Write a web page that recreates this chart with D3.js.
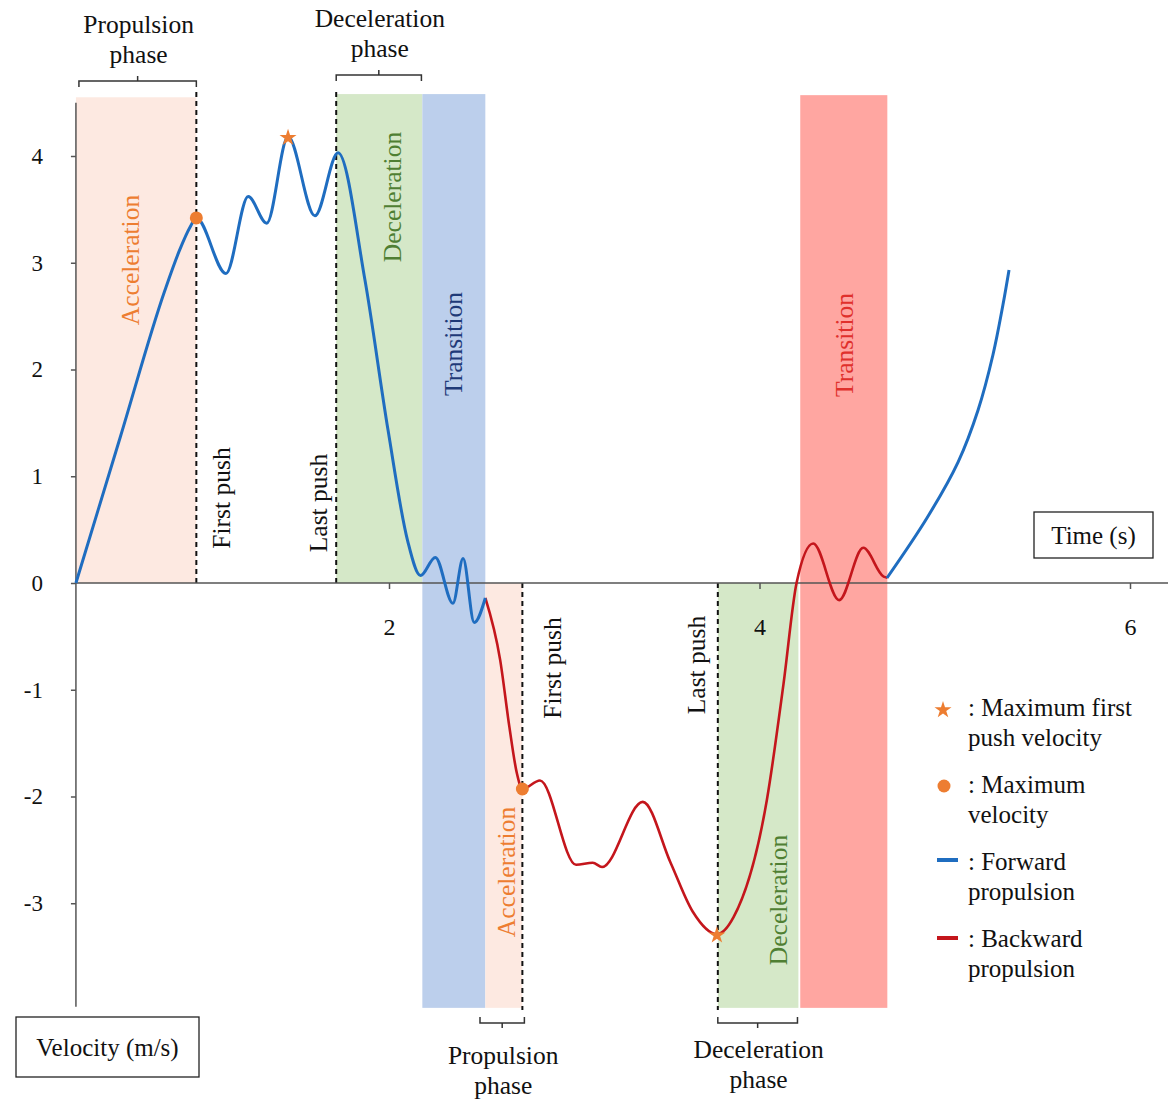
<!DOCTYPE html>
<html>
<head>
<meta charset="utf-8">
<script src="https://cdn.jsdelivr.net/npm/d3@7"></script>
<style>
  body { margin: 0; background: #fff; }
  svg text { font-family: "Liberation Serif", "Times New Roman", serif; }
</style>
</head>
<body>
<div id="chart"></div>
<script>
"use strict";

// velocity (m/s) against time (s)
const forwardStart = [
  [0.31, 0], [0.55, 1.37], [0.79, 2.74], [0.87, 3.12], [0.925, 3.33], [0.96, 3.42],
  [1.12, 2.90], [1.24, 3.62], [1.34, 3.37], [1.455, 4.18], [1.60, 3.44],
  [1.725, 4.03], [1.87, 2.84], [1.995, 1.43], [2.10, 0.40], [2.17, 0.07],
  [2.25, 0.24], [2.345, -0.19], [2.40, 0.23], [2.46, -0.37], [2.52, -0.14]
];
const backward = [
  [2.52, -0.14], [2.60, -0.72], [2.65, -1.35], [2.69, -1.78], [2.72, -1.93],
  [2.815, -1.85], [3.01, -2.64], [3.10, -2.62], [3.15, -2.66],
  [3.37, -2.05], [3.52, -2.62], [3.64, -3.08], [3.77, -3.29], [3.86, -3.13],
  [4.04, -2.03], [4.13, -0.94], [4.20, 0], [4.29, 0.37], [4.43, -0.16],
  [4.56, 0.33], [4.67, 0.06], [4.69, 0.05]
];
const forwardEnd = [
  [4.688, 0.047], [4.904, 0.609], [5.072, 1.133], [5.18, 1.621],
  [5.26, 2.136], [5.314, 2.604], [5.347, 2.932]
];
const maxVelocity = [[0.96, 3.42], [2.72, -1.93]];
const maxFirstPush = [[1.455, 4.18], [3.77, -3.29]];

const xTicks = [2, 4, 6];
const yTicks = [-3, -2, -1, 0, 1, 2, 3, 4];

const phaseBands = [
  { key: "accel", t0: 0.31, t1: 0.96, vLow: 0, vHigh: 4.55 },
  { key: "decel", t0: 1.715, t1: 2.18, vLow: 0, vHigh: 4.58 },
  { key: "transF", t0: 2.18, t1: 2.52, vLow: -3.98, vHigh: 4.58 },
  { key: "accel", t0: 2.52, t1: 2.72, vLow: -3.98, vHigh: 0 },
  { key: "decel", t0: 3.775, t1: 4.21, vLow: -3.98, vHigh: 0 },
  { key: "transB", t0: 4.22, t1: 4.69, vLow: -3.98, vHigh: 4.57 }
];
const pushTimes = [0.96, 1.715, 2.72, 3.775];

const bandColor = {
  accel: "#fde9e1", decel: "#d5e8c8", transF: "#bccfec", transB: "#ffa6a1"
};
const orange = "#ed7d31";
const blue = "#1f6dc0";
const red = "#c4161c";
const serif = "'Liberation Serif', 'Times New Roman', serif";

const width = 1171;
const height = 1099;

const svg = d3.select("#chart")
  .append("svg")
  .attr("width", width)
  .attr("height", height);

const x = d3.scaleLinear().domain([2, 6]).range([389, 1130]);
const y = d3.scaleLinear().domain([0, 4]).range([583, 156]);
const x0 = x(forwardStart[0][0]);

// shaded phases
svg.append("g")
  .selectAll("rect")
  .data(phaseBands)
  .enter()
  .append("rect")
  .attr("x", d => x(d.t0))
  .attr("y", d => y(d.vHigh))
  .attr("width", d => x(d.t1) - x(d.t0))
  .attr("height", d => y(d.vLow) - y(d.vHigh))
  .attr("fill", d => bandColor[d.key]);

// first / last push markers
svg.append("g")
  .selectAll("line")
  .data(pushTimes)
  .enter()
  .append("line")
  .attr("x1", d => x(d))
  .attr("x2", d => x(d))
  .attr("y1", y(0))
  .attr("y2", (d, i) => i < 2 ? y(4.6) : y(-4.0))
  .attr("stroke", "#111")
  .attr("stroke-width", 2)
  .attr("stroke-dasharray", "5,4");

// axes
const xAxis = d3.axisBottom(x).tickValues(xTicks).tickSize(6).tickFormat(d => String(d));
const gx = svg.append("g")
  .attr("transform", `translate(0, ${y(0)})`)
  .call(xAxis)
  .attr("font-family", serif)
  .attr("font-size", 24);
gx.select(".domain").remove();
gx.selectAll("line").attr("stroke", "#555").attr("stroke-width", 1.5);
gx.selectAll("text")
  .attr("y", 52)
  .attr("dy", null)
  .attr("fill", "#111")
  .attr("font-family", serif)
  .attr("font-size", 24);
gx.append("line")
  .attr("x1", x0).attr("x2", 1168)
  .attr("y1", 0).attr("y2", 0)
  .attr("stroke", "#555").attr("stroke-width", 1.5);

const yAxis = d3.axisLeft(y).tickValues(yTicks).tickSize(5).tickFormat(d => String(d));
const gy = svg.append("g")
  .attr("transform", `translate(${x0}, 0)`)
  .call(yAxis)
  .attr("font-family", serif)
  .attr("font-size", 23);
gy.select(".domain").remove();
gy.selectAll("line").attr("stroke", "#555").attr("stroke-width", 1.5);
gy.selectAll("text")
  .attr("x", -33)
  .attr("fill", "#111")
  .attr("font-family", serif)
  .attr("font-size", 23);
gy.append("line")
  .attr("x1", 0).attr("x2", 0)
  .attr("y1", y(4.5)).attr("y2", y(-3.97))
  .attr("stroke", "#555").attr("stroke-width", 1.5);

// velocity curves
const line = d3.line()
  .x(d => x(d[0]))
  .y(d => y(d[1]))
  .curve(d3.curveMonotoneX);
const smoothLine = d3.line()
  .x(d => x(d[0]))
  .y(d => y(d[1]))
  .curve(d3.curveCatmullRom.alpha(0.5));

svg.append("path").datum(backward)
  .attr("d", line).attr("fill", "none")
  .attr("stroke", red).attr("stroke-width", 2.6);
svg.append("path").datum(forwardStart)
  .attr("d", line).attr("fill", "none")
  .attr("stroke", blue).attr("stroke-width", 3);
svg.append("path").datum(forwardEnd)
  .attr("d", smoothLine).attr("fill", "none")
  .attr("stroke", blue).attr("stroke-width", 3);

// markers
svg.append("g")
  .selectAll("circle")
  .data(maxVelocity)
  .enter()
  .append("circle")
  .attr("cx", d => x(d[0]))
  .attr("cy", d => y(d[1]))
  .attr("r", 6.5)
  .attr("fill", orange);

const star = d3.symbol().type(d3.symbolStar).size(90);
svg.append("g")
  .selectAll("path")
  .data(maxFirstPush)
  .enter()
  .append("path")
  .attr("d", star)
  .attr("transform", d => `translate(${x(d[0])}, ${y(d[1]) + 1})`)
  .attr("fill", orange);

// rotated labels
const rotated = [
  { text: "Acceleration", cx: 131, cy: 260, color: orange },
  { text: "Deceleration", cx: 393, cy: 197, color: "#4f7f33" },
  { text: "Transition", cx: 454, cy: 344, color: "#1f3a78" },
  { text: "Transition", cx: 845, cy: 345, color: "#e0302c" },
  { text: "First push", cx: 222, cy: 498, color: "#111" },
  { text: "Last push", cx: 319, cy: 503, color: "#111" },
  { text: "First push", cx: 553, cy: 668, color: "#111" },
  { text: "Last push", cx: 697, cy: 665, color: "#111" },
  { text: "Acceleration", cx: 507, cy: 872, color: orange },
  { text: "Deceleration", cx: 779, cy: 900, color: "#4f7f33" }
];
svg.append("g")
  .selectAll("text")
  .data(rotated)
  .enter()
  .append("text")
  .attr("transform", d => `translate(${d.cx}, ${d.cy}) rotate(-90)`)
  .attr("text-anchor", "middle")
  .attr("dy", "0.32em")
  .attr("fill", d => d.color)
  .style("font-size", "25.5px")
  .text(d => d.text);

// phase braces
const braces = [
  { a: x0 + 3, b: x(0.96), yh: 81, dir: 1, lines: ["Propulsion", "phase"], ty: 33 },
  { a: x(1.715), b: x(2.175), yh: 75, dir: 1, lines: ["Deceleration", "phase"], ty: 27 },
  { a: 480, b: x(2.72) + 2, yh: 1023, dir: -1, lines: ["Propulsion", "phase"], ty: 1064 },
  { a: x(3.775), b: x(4.205), yh: 1023, dir: -1, lines: ["Deceleration", "phase"], ty: 1058 }
];
const gb = svg.append("g");
braces.forEach(b => {
  const mid = (b.a + b.b) / 2;
  gb.append("path")
    .attr("d", `M${b.a},${b.yh + 6 * b.dir} V${b.yh} H${b.b} V${b.yh + 6 * b.dir}` +
      ` M${mid},${b.yh} V${b.yh - 5 * b.dir}`)
    .attr("fill", "none")
    .attr("stroke", "#333")
    .attr("stroke-width", 1.5);
  b.lines.forEach((t, i) => {
    gb.append("text")
      .attr("x", mid + 1)
      .attr("y", b.ty + i * 30)
      .attr("text-anchor", "middle")
      .attr("fill", "#111")
      .style("font-size", "25.5px")
      .text(t);
  });
});

// axis title boxes
const boxes = [
  { text: "Time (s)", x: 1034, y: 512, w: 119, h: 46 },
  { text: "Velocity (m/s)", x: 16, y: 1017, w: 183, h: 60 }
];
boxes.forEach(b => {
  svg.append("rect")
    .attr("x", b.x).attr("y", b.y)
    .attr("width", b.w).attr("height", b.h)
    .attr("fill", "#fff")
    .attr("stroke", "#222")
    .attr("stroke-width", 1.3);
  svg.append("text")
    .attr("x", b.x + b.w / 2)
    .attr("y", b.y + b.h / 2)
    .attr("dy", "0.35em")
    .attr("text-anchor", "middle")
    .attr("fill", "#111")
    .style("font-size", "25px")
    .text(b.text);
});

// legend
const legend = svg.append("g");
legend.append("path")
  .attr("d", d3.symbol().type(d3.symbolStar).size(90))
  .attr("transform", "translate(943, 710)")
  .attr("fill", orange);
legend.append("circle")
  .attr("cx", 944).attr("cy", 786).attr("r", 6.5)
  .attr("fill", orange);
legend.append("line")
  .attr("x1", 937).attr("x2", 958).attr("y1", 860).attr("y2", 860)
  .attr("stroke", blue).attr("stroke-width", 4);
legend.append("line")
  .attr("x1", 937).attr("x2", 958).attr("y1", 938).attr("y2", 938)
  .attr("stroke", red).attr("stroke-width", 4);

const legendText = [
  [": Maximum first", "push velocity"],
  [": Maximum", "velocity"],
  [": Forward", "propulsion"],
  [": Backward", "propulsion"]
];
legendText.forEach((pair, i) => {
  pair.forEach((t, j) => {
    legend.append("text")
      .attr("x", 968)
      .attr("y", 716 + i * 77 + j * 30)
      .attr("fill", "#111")
      .style("font-size", "25px")
      .text(t);
  });
});
</script>
</body>
</html>
